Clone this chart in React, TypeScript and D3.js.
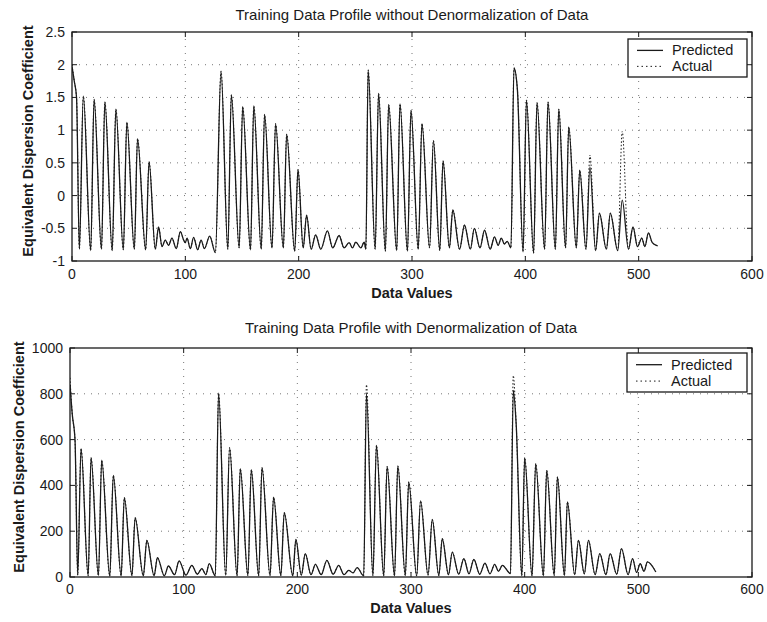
import React from "react";
import * as d3 from "d3";

// ---------- data ----------
const xTicks = [0, 100, 200, 300, 400, 500, 600];
const topYTicks = [-1, -0.5, 0, 0.5, 1, 1.5, 2, 2.5];
const bottomYTicks = [0, 200, 400, 600, 800, 1000];

const topTitle = "Training Data Profile without Denormalization of Data";
const bottomTitle = "Training Data Profile with Denormalization of Data";
const xLabel = "Data Values";
const yLabel = "Equivalent Dispersion Coefficient";
const legendLabels = ["Predicted", "Actual"];

const topIdx = [
  0, 2, 4, 6.5, 10, 16.5, 19.5, 26, 29, 35.5, 38.7, 45.3, 48.4, 55, 57.8, 65, 68, 73.5, 76.4, 79.4,
  82.3, 85.2, 88.2, 92, 95.6, 98.5, 100, 101.5, 104.4, 107.3, 110.9, 113.9, 116.8, 121.5, 126.5,
  131.5, 137.5, 140.6, 147.5, 150.6, 157.5, 160.4, 167, 169.9, 176.5, 179.6, 186.5, 189.4, 196.5,
  199.4, 204, 207, 211, 215, 219.5, 225.4, 230, 235.7, 240, 244.5, 247.5, 250.4, 254.9, 257.8, 259.3,
  261.3, 267.5, 270.5, 276.5, 279.4, 286.5, 289.4, 296, 299.1, 305.5, 308.8, 315.5, 318.9, 324.5,
  327.4, 333, 336, 342, 346.3, 351.5, 355, 360, 364, 369, 372.8, 376, 378.8, 381.5, 384, 387.3,
  390, 393, 398, 401, 407.3, 410.3, 417, 420, 426.5, 429.5, 435.5, 438.3, 445, 448, 453.5, 457, 462,
  465.4, 471.5, 475, 481.5, 485.5, 491, 495, 499, 502.7, 505.5, 508.6, 512, 516.8,
];
const topPredicted = [
  1.97, 1.75, 1.5, -0.82, 1.52, -0.84, 1.47, -0.82, 1.43, -0.84, 1.32, -0.83, 1.12, -0.82, 0.87, -0.83, 0.52, -0.82, -0.48, -0.78,
  -0.68, -0.76, -0.65, -0.81, -0.55, -0.68, -0.72, -0.65, -0.81, -0.64, -0.83, -0.68, -0.81, -0.62, -0.87,
  1.9, -0.82, 1.54, -0.8, 1.36, -0.83, 1.37, -0.82, 1.24, -0.8, 1.1, -0.8, 0.94, -0.85,
  0.4, -0.8, -0.3, -0.82, -0.6, -0.82, -0.54, -0.8, -0.61, -0.8, -0.72, -0.8, -0.71, -0.8, -0.71, -0.82,
  1.92, -0.82, 1.56, -0.85, 1.39, -0.84, 1.4, -0.85, 1.3, -0.82, 1.1, -0.8, 0.84, -0.84,
  0.53, -0.8, -0.22, -0.82, -0.45, -0.82, -0.5, -0.8, -0.53, -0.82, -0.63, -0.76, -0.65, -0.74, -0.7, -0.8,
  1.95, 1.62, -0.86, 1.46, -0.88, 1.42, -0.82, 1.43, -0.82, 1.32, -0.8, 1.05, -0.8, 0.39, -0.82, 0.44, -0.84,
  -0.27, -0.82, -0.27, -0.84, -0.07, -0.82, -0.48, -0.78, -0.65, -0.78, -0.57, -0.72, -0.77,
];
const topActual = [
  2.0, 1.75, 1.5, -0.82, 1.52, -0.84, 1.47, -0.82, 1.43, -0.84, 1.32, -0.83, 1.12, -0.82, 0.87, -0.83, 0.52, -0.82, -0.48, -0.78,
  -0.68, -0.76, -0.65, -0.81, -0.55, -0.68, -0.72, -0.65, -0.81, -0.64, -0.83, -0.68, -0.81, -0.62, -0.87,
  1.9, -0.82, 1.54, -0.8, 1.36, -0.83, 1.37, -0.82, 1.24, -0.8, 1.1, -0.8, 0.94, -0.85,
  0.4, -0.8, -0.3, -0.82, -0.6, -0.82, -0.54, -0.8, -0.61, -0.8, -0.72, -0.8, -0.71, -0.8, -0.71, -0.82,
  1.92, -0.82, 1.56, -0.85, 1.39, -0.84, 1.4, -0.85, 1.3, -0.82, 1.1, -0.8, 0.84, -0.84,
  0.53, -0.8, -0.22, -0.82, -0.45, -0.82, -0.5, -0.8, -0.53, -0.82, -0.63, -0.76, -0.65, -0.74, -0.7, -0.8,
  1.95, 1.62, -0.86, 1.46, -0.88, 1.42, -0.82, 1.43, -0.82, 1.32, -0.8, 1.05, -0.8, 0.39, -0.82, 0.62, -0.84,
  -0.27, -0.82, -0.27, -0.84, 0.98, -0.82, -0.48, -0.78, -0.65, -0.78, -0.57, -0.72, -0.77,
];

const bottomIdx = [
  0, 2, 4.4, 6.8, 9.7, 16, 18.5, 25, 27.9, 35, 38.1, 45, 47.8, 54.5, 57.3, 64.5, 67.6, 74, 76.9, 83,
  86.6, 92, 96, 102, 107.2, 112, 116, 119.5, 122.5, 127.8,
  130.7, 137, 140.4, 147, 149.8, 156.5, 159.5, 166, 168.9, 176, 179.1, 185.5, 188.5, 196, 198.7, 203.5,
  207, 212, 215.9, 221, 226, 231.5, 236.4, 241, 245.2, 249, 252.6, 258.4,
  260.8, 266.5, 269.6, 276, 279, 285.5, 288.4, 295, 298, 305, 308.4, 315, 318.7, 324.5, 327.5, 333,
  336.3, 342, 346.5, 351, 355.3, 360.5, 365, 369.5, 373.6, 377, 380.4, 387.5,
  390, 392.5, 397.5, 400, 406.5, 409.7, 416.5, 419.4, 426, 428.8, 435, 437.6, 444, 447.3, 452.5, 456.1,
  462, 466.1, 471.5, 475.2, 481, 485.2, 491, 494.9, 498.5, 501.6, 505, 508, 515.4,
];
const bottomPredicted = [
  840, 710, 600, 8, 561, 5, 521, 6, 510, 4, 444, 5, 347, 6, 259, 5, 160, 6, 85, 5,
  48, 10, 70, 8, 51, 12, 37, 10, 58, 5,
  803, 8, 565, 5, 473, 6, 469, 5, 478, 6, 349, 6, 281, 5, 164, 8,
  102, 10, 55, 10, 73, 12, 51, 10, 29, 18, 41, 5,
  801, 6, 575, 5, 483, 5, 485, 6, 415, 5, 332, 8, 251, 6, 168, 10,
  109, 12, 80, 14, 77, 12, 61, 14, 55, 25, 51, 15,
  815, 670, 6, 521, 5, 495, 5, 466, 6, 437, 6, 328, 10, 160, 14, 160,
  10, 102, 10, 102, 12, 124, 10, 80, 20, 58, 25, 66, 22,
];
const bottomActual = [
  870, 710, 600, 8, 561, 5, 521, 6, 510, 4, 444, 5, 347, 6, 259, 5, 160, 6, 85, 5,
  48, 10, 70, 8, 51, 12, 37, 10, 58, 5,
  803, 8, 565, 5, 473, 6, 469, 5, 478, 6, 349, 6, 281, 5, 164, 8,
  102, 10, 55, 10, 73, 12, 51, 10, 29, 18, 41, 5,
  840, 6, 575, 5, 483, 5, 485, 6, 415, 5, 332, 8, 251, 6, 168, 10,
  109, 12, 80, 14, 77, 12, 61, 14, 55, 25, 51, 15,
  880, 670, 6, 521, 5, 495, 5, 466, 6, 437, 6, 328, 10, 160, 14, 160,
  10, 102, 10, 102, 12, 124, 10, 80, 20, 58, 25, 66, 22,
];

const FONT = "'Liberation Sans', Arial, Helvetica, sans-serif";
const INK = "#1a1a1a";

type PanelProps = {
  id: string;
  left: number;
  right: number;
  top: number;
  bottom: number;
  yDomain: [number, number];
  yTicks: number[];
  idx: number[];
  predicted: number[];
  actual: number[];
  title: string;
  titleY: number;
  tickLabelY: number;
  xLabelY: number;
  yLabelX: number;
  yLabelY: number;
  legend: { x0: number; x1: number; y0: number; y1: number };
};

function Panel(p: PanelProps) {
  const x = d3.scaleLinear().domain([0, 600]).range([p.left, p.right]);
  const y = d3.scaleLinear().domain(p.yDomain).range([p.bottom, p.top]);
  const line = d3
    .line<number>()
    .x((_, i) => x(p.idx[i]))
    .y((d) => y(d))
    .curve(d3.curveMonotoneX);
  const tickLen = 5;
  const cx = (p.left + p.right) / 2;
  const lg = p.legend;
  const row1 = lg.y0 + (lg.y1 - lg.y0) * 0.3;
  const row2 = lg.y0 + (lg.y1 - lg.y0) * 0.72;
  return (
    <g>
      <defs>
        <clipPath id={p.id}>
          <rect x={p.left} y={p.top} width={p.right - p.left} height={p.bottom - p.top} />
        </clipPath>
      </defs>
      {/* grid */}
      {xTicks.slice(1, -1).map((t) => (
        <line key={"gx" + t} x1={x(t)} x2={x(t)} y1={p.top} y2={p.bottom} stroke="#777" strokeWidth={1} strokeDasharray="1,6" />
      ))}
      {p.yTicks.slice(1, -1).map((t) => (
        <line key={"gy" + t} x1={p.left} x2={p.right} y1={y(t)} y2={y(t)} stroke="#777" strokeWidth={1} strokeDasharray="1,6" />
      ))}
      {/* data */}
      <g clipPath={`url(#${p.id})`}>
        <path d={line(p.actual) || ""} fill="none" stroke={INK} strokeWidth={1} strokeDasharray="1.5,2" />
        <path d={line(p.predicted) || ""} fill="none" stroke={INK} strokeWidth={1.3} />
      </g>
      {/* box */}
      <rect x={p.left} y={p.top} width={p.right - p.left} height={p.bottom - p.top} fill="none" stroke={INK} strokeWidth={1.3} />
      {/* ticks */}
      {xTicks.map((t) => (
        <g key={"tx" + t}>
          <line x1={x(t)} x2={x(t)} y1={p.bottom} y2={p.bottom - tickLen} stroke={INK} />
          <line x1={x(t)} x2={x(t)} y1={p.top} y2={p.top + tickLen} stroke={INK} />
          <text x={x(t)} y={p.tickLabelY} textAnchor="middle" fontSize={14} fontFamily={FONT} fill={INK}>
            {t}
          </text>
        </g>
      ))}
      {p.yTicks.map((t) => (
        <g key={"ty" + t}>
          <line x1={p.left} x2={p.left + tickLen} y1={y(t)} y2={y(t)} stroke={INK} />
          <line x1={p.right} x2={p.right - tickLen} y1={y(t)} y2={y(t)} stroke={INK} />
          <text x={p.left - 7} y={y(t) + 5} textAnchor="end" fontSize={14} fontFamily={FONT} fill={INK}>
            {t}
          </text>
        </g>
      ))}
      {/* labels */}
      <text x={cx} y={p.titleY} textAnchor="middle" fontSize={15} fontFamily={FONT} fill={INK}>
        {p.title}
      </text>
      <text x={cx} y={p.xLabelY} textAnchor="middle" fontSize={14.5} fontWeight="bold" fontFamily={FONT} fill={INK}>
        {xLabel}
      </text>
      <text
        transform={`translate(${p.yLabelX},${p.yLabelY}) rotate(-90)`}
        textAnchor="middle"
        fontSize={14.5}
        fontWeight="bold"
        fontFamily={FONT}
        fill={INK}
      >
        {yLabel}
      </text>
      {/* legend */}
      <rect x={lg.x0} y={lg.y0} width={lg.x1 - lg.x0} height={lg.y1 - lg.y0} fill="#fff" stroke={INK} strokeWidth={1.3} />
      <line x1={lg.x0 + 9} x2={lg.x0 + 35} y1={row1} y2={row1} stroke={INK} strokeWidth={1.3} />
      <line x1={lg.x0 + 9} x2={lg.x0 + 35} y1={row2} y2={row2} stroke={INK} strokeWidth={1} strokeDasharray="1.5,3" />
      <text x={lg.x0 + 44} y={row1 + 5} fontSize={14.5} fontFamily={FONT} fill={INK}>
        {legendLabels[0]}
      </text>
      <text x={lg.x0 + 44} y={row2 + 5} fontSize={14.5} fontFamily={FONT} fill={INK}>
        {legendLabels[1]}
      </text>
    </g>
  );
}

export default function App() {
  return (
    <svg width={767} height={622} style={{ position: "absolute", left: 0, top: 0, background: "#fff" }}>
      <rect x={0} y={0} width={767} height={622} fill="#fff" />
      <Panel
        id="clipTop"
        left={72}
        right={752}
        top={32}
        bottom={261}
        yDomain={[-1, 2.5]}
        yTicks={topYTicks}
        idx={topIdx}
        predicted={topPredicted}
        actual={topActual}
        title={topTitle}
        titleY={20}
        tickLabelY={279}
        xLabelY={298}
        yLabelX={33}
        yLabelY={141}
        legend={{ x0: 628, x1: 747, y0: 39, y1: 77 }}
      />
      <Panel
        id="clipBottom"
        left={70}
        right={752}
        top={348}
        bottom={577}
        yDomain={[0, 1000]}
        yTicks={bottomYTicks}
        idx={bottomIdx}
        predicted={bottomPredicted}
        actual={bottomActual}
        title={bottomTitle}
        titleY={333}
        tickLabelY={594}
        xLabelY={613}
        yLabelX={24}
        yLabelY={457}
        legend={{ x0: 627, x1: 747, y0: 353, y1: 392 }}
      />
    </svg>
  );
}
